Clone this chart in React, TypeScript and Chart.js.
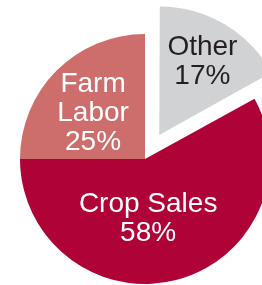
import React, { useEffect, useRef } from "react";
import { Chart, registerables } from "chart.js";

Chart.register(...registerables);

const categories = ["Other", "Crop Sales", "Farm Labor"];
const values = [17, 58, 25];
const labelLines = [["Other", "17%"], ["Crop Sales", "58%"], ["Farm", "Labor", "25%"]];
const sliceColors = ["#D1D2D4", "#AF0338", "#CD6E6D"];
const textColors = ["#231F20", "#FFFFFF", "#FFFFFF"];
const sliceOffsets = [112, 0, 0];
// label anchor: angle (deg, clockwise from top) and fraction of radius
const labelAngles = [30.5, 177, 311.5];
const labelRadii = [0.68, 0.48, 0.555];

const labelPlugin = {
  id: "sliceLabels",
  afterDatasetsDraw(chart: any) {
    const ctx = chart.ctx;
    const meta = chart.getDatasetMeta(0);
    ctx.save();
    ctx.font = "28px 'Liberation Sans', Arial, Helvetica, sans-serif";
    ctx.textAlign = "center";
    ctx.textBaseline = "middle";
    const lineH = 29;
    meta.data.forEach((arc: any, i: number) => {
      const { x, y, startAngle, endAngle, outerRadius } = arc.getProps(
        ["x", "y", "startAngle", "endAngle", "outerRadius"],
        true
      );
      const off = (arc.options.offset || 0) / 4;
      const half = (startAngle + endAngle) / 2;
      const cx = x + Math.cos(half) * off;
      const cy = y + Math.sin(half) * off;
      const a = (labelAngles[i] * Math.PI) / 180;
      const lx = cx + labelRadii[i] * outerRadius * Math.sin(a);
      const ly = cy - labelRadii[i] * outerRadius * Math.cos(a);
      const lines = labelLines[i];
      ctx.fillStyle = textColors[i];
      lines.forEach((t, k) => {
        ctx.fillText(t, lx, ly + (k - (lines.length - 1) / 2) * lineH);
      });
    });
    ctx.restore();
  },
};

export default function App() {
  const ref = useRef<HTMLCanvasElement>(null);
  useEffect(() => {
    if (!ref.current) return;
    const chart = new Chart(ref.current, {
      type: "pie",
      data: {
        labels: categories,
        datasets: [
          {
            data: values,
            backgroundColor: sliceColors,
            borderWidth: 0,
            offset: sliceOffsets,
            hoverOffset: 0,
            clip: false,
          } as any,
        ],
      },
      options: {
        responsive: false,
        animation: false,
        radius: 125,
        layout: { padding: { left: 28, top: 33, right: 0, bottom: 0 } },
        plugins: {
          legend: { display: false },
          tooltip: { enabled: false },
        },
        events: [],
      } as any,
      plugins: [labelPlugin],
    });
    return () => chart.destroy();
  }, []);
  return (
    <div style={{ position: "fixed", left: 0, top: 0, width: 262, height: 285, background: "#fff" }}>
      <canvas ref={ref} width={262} height={285} style={{ display: "block" }} />
    </div>
  );
}
